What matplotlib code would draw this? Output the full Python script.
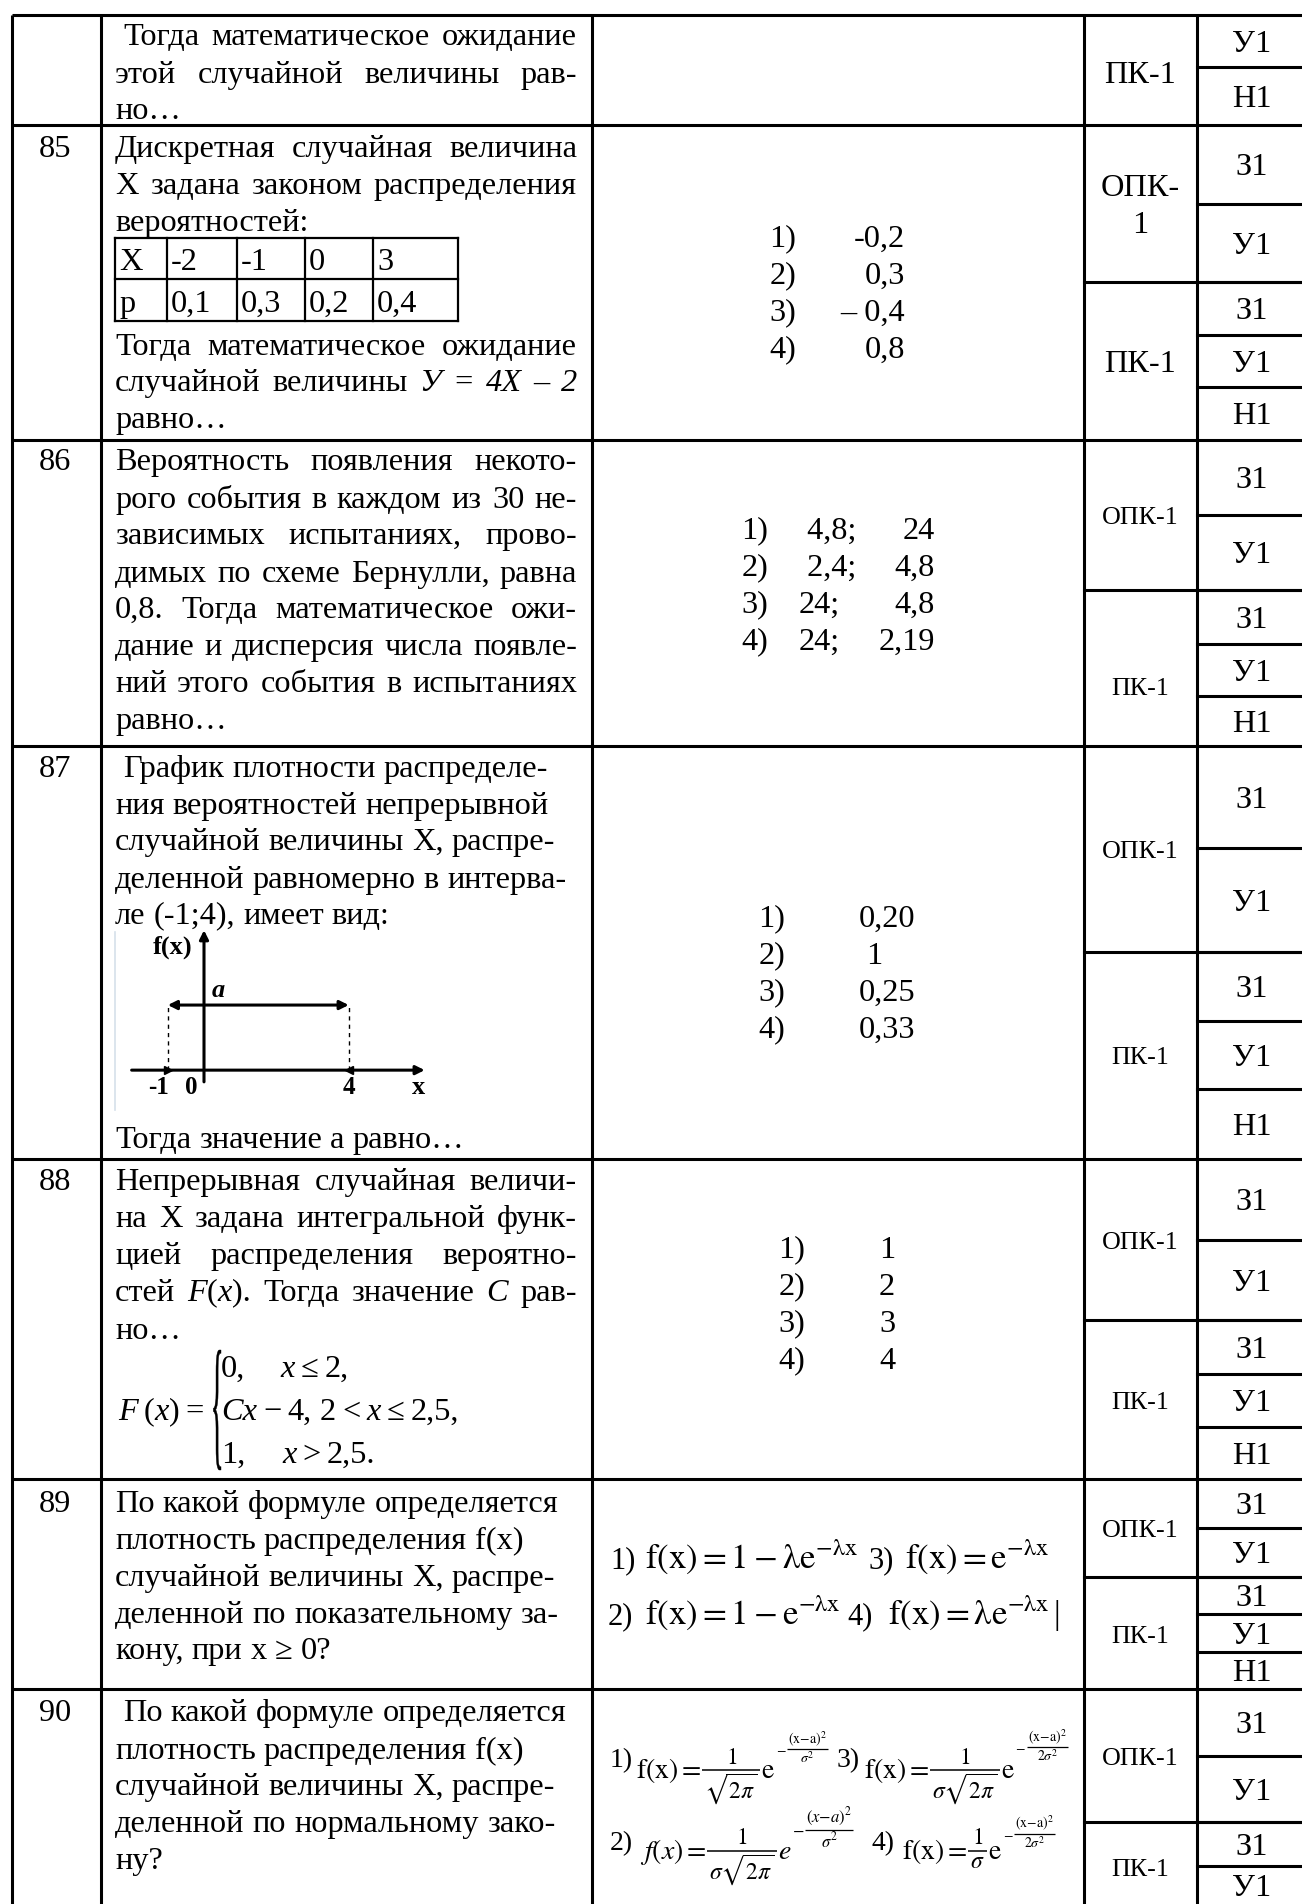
import matplotlib
matplotlib.use("Agg")
import matplotlib.pyplot as plt
from matplotlib.font_manager import FontProperties
from matplotlib.patches import PathPatch
from matplotlib.path import Path
from matplotlib.textpath import TextPath

W, H = 1302, 1904

plt.rcParams['font.family'] = ['Liberation Serif', 'DejaVu Serif']
plt.rcParams['mathtext.fontset'] = 'stix'

# ---------------- content ----------------
task_numbers = ["", "85", "86", "87", "88", "89", "90"]

# "_" toggles italic
question_text = [
    [" Тогда математическое ожидание", "этой случайной величины рав-", "но…"],
    ["Дискретная случайная величина", "X задана законом распределения", "вероятностей:",
     "Тогда математическое ожидание", "случайной величины _У = 4X – 2_", "равно…"],
    ["Вероятность появления некото-", "рого события в каждом из 30 не-",
     "зависимых испытаниях, прово-", "димых по схеме Бернулли, равна",
     "0,8. Тогда математическое ожи-", "дание и дисперсия числа появле-",
     "ний этого события в испытаниях", "равно…"],
    [" График плотности распределе-", "ния вероятностей непрерывной",
     "случайной величины X, распре-", "деленной равномерно в интерва-",
     "ле (-1;4), имеет вид:", "Тогда значение а равно…"],
    ["Непрерывная случайная величи-", "на X задана интегральной функ-",
     "цией распределения вероятно-", "стей _F_(_x_). Тогда значение _C_ рав-", "но…"],
    ["По какой формуле определяется", "плотность распределения f(x)",
     "случайной величины X, распре-", "деленной по показательному за-", "кону, при x ≥ 0?"],
    [" По какой формуле определяется", "плотность распределения f(x)",
     "случайной величины X, распре-", "деленной по нормальному зако-", "ну?"],
]
justified = [
    [1, 1, 0],
    [1, 1, 0, 1, 1, 0],
    [1, 1, 1, 1, 1, 1, 1, 0],
    [0, 0, 0, 0, 0, 0],
    [1, 1, 1, 1, 0],
    [0, 0, 0, 0, 0],
    [0, 0, 0, 0, 0],
]

dist_head = ["X", "p"]
dist_x = ["-2", "-1", "0", "3"]
dist_p = ["0,1", "0,3", "0,2", "0,4"]

option_marks = ["1)", "2)", "3)", "4)"]
answers_85 = ["-0,2", "0,3", "– 0,4", "0,8"]
answers_86_a = [" 4,8;", " 2,4;", "24;", "24;"]
answers_86_b = ["24", "4,8", "4,8", "2,19"]
answers_87 = ["0,20", "1", "0,25", "0,33"]
answers_88 = ["1", "2", "3", "4"]

uniform_interval = (-1, 4)

cdf_left = "_F_ (_x_) ="
cdf_cases = [("0,", "_x_ ≤ 2,"), ("_Cx_ − 4,", "2 < _x_ ≤ 2,5,"), ("1,", "_x_ > 2,5.")]

exp_formulas = [r'$\mathrm{f(x)=1-λe^{-λx}}$', r'$\mathrm{f(x)=1-e^{-λx}}$',
                r'$\mathrm{f(x)=e^{-λx}}$', r'$\mathrm{f(x)=λe^{-λx}}$']
# normal-law options: left side, coefficient num/den, base, exponent num/den
normal_formulas = [
    (r'$\mathrm{f(x)=}$', r'$1$', r'$\sqrt{2\pi}$', r'$\mathrm{e}$',
     r'$\mathrm{(x{-}a)^{2}}$', r'$\sigma^{2}$'),
    (r'$f(x)=$', r'$1$', r'$\sigma\sqrt{2\pi}$', r'$e$',
     r'$(x{-}a)^{2}$', r'$\sigma^{2}$'),
    (r'$\mathrm{f(x)=}$', r'$1$', r'$\sigma\sqrt{2\pi}$', r'$\mathrm{e}$',
     r'$\mathrm{(x{-}a)^{2}}$', r'$2\sigma^{2}$'),
    (r'$\mathrm{f(x)=}$', r'$1$', r'$\sigma$', r'$\mathrm{e}$',
     r'$\mathrm{(x{-}a)^{2}}$', r'$2\sigma^{2}$'),
]

competences = [["ПК-1"], ["ОПК-\n1", "ПК-1"], ["ОПК-1", "ПК-1"], ["ОПК-1", "ПК-1"],
               ["ОПК-1", "ПК-1"], ["ОПК-1", "ПК-1"], ["ОПК-1", "ПК-1"]]
levels = [["У1", "Н1"], ["З1", "У1", "З1", "У1", "Н1"], ["З1", "У1", "З1", "У1", "Н1"],
          ["З1", "У1", "З1", "У1", "Н1"], ["З1", "У1", "З1", "У1", "Н1"],
          ["З1", "У1", "З1", "У1", "Н1"], ["З1", "У1", "З1", "У1"]]

# ---------------- layout (pixels) ----------------
col_x = [12, 101, 592, 1084, 1197]
row_y = [15, 125, 440, 746, 1159, 1479, 1689, 1904]
comp_split = [None, 282, 590, 952, 1320, 1577, 1822]
comp_label_y = [[72], [203, 361], [515, 686], [849, 1055], [1240, 1400], [1528, 1634], [1756, 1867]]
level_edges = [[15, 67, 125], [125, 204, 282, 335, 387, 440], [440, 515, 590, 644, 696, 746],
               [746, 848, 952, 1021, 1089, 1159], [1159, 1240, 1320, 1374, 1427, 1479],
               [1479, 1528, 1577, 1614, 1652, 1689], [1689, 1756, 1822, 1866, 1904]]
line_y = [
    [34, 72, 108],
    [146, 183, 220, 344, 380, 417],
    [459, 497, 533, 571, 607, 644, 681, 718],
    [766, 803, 839, 877, 913, 1137],
    [1179, 1216, 1253, 1290, 1328],
    [1501, 1538, 1575, 1612, 1648],
    [1710, 1748, 1784, 1821, 1858],
]
TXT_L, TXT_R = 115, 577
FS = 23.3          # main text size, pt
FS_SMALL = 18.7
LW = 2.2

fig = plt.figure(figsize=(W / 100, H / 100), dpi=100)
ax = fig.add_axes([0, 0, 1, 1])
ax.set_xlim(0, W)
ax.set_ylim(H, 0)
ax.axis('off')
renderer = fig.canvas.get_renderer()


def width_of(s, size, style='normal'):
    t = ax.text(0, 0, s, fontsize=size, style=style)
    w = t.get_window_extent(renderer).width
    t.remove()
    return w


def draw_line(line, y, x0, x1, size=FS, justify=False, gap=None):
    base = y + 0.33 * size * 100 / 72
    space = 0.25 * size * 100 / 72
    if line.startswith(" "):
        x0 += space
    words, italic = [], False
    for w in line.split():
        segs = []
        for i, part in enumerate(w.split("_")):
            if i > 0:
                italic = not italic
            if part:
                segs.append((part, italic))
        words.append([(s, it, width_of(s, size, 'italic' if it else 'normal')) for s, it in segs])
    widths = [sum(s[2] for s in wd) for wd in words]
    if justify and len(words) > 1:
        gap = (x1 - x0 - sum(widths)) / (len(words) - 1)
    elif gap is None:
        gap = space
    x = x0
    for wd, ww in zip(words, widths):
        xx = x
        for s, it, sw in wd:
            ax.text(xx, base, s, fontsize=size, style='italic' if it else 'normal',
                    ha='left', va='baseline')
            xx += sw
        x += ww + gap


def ctext(x, y, s, size=FS, ha='center', **kw):
    ax.text(x, y + 0.33 * size * 100 / 72, s, fontsize=size, ha=ha, va='baseline', **kw)


def piece(x, base, s, size):
    t = ax.text(x, base, s, fontsize=size, ha='left', va='baseline')
    return x + t.get_window_extent(renderer).width


def frac(x, axis, num, den, size, lw=1.1, pad=2):
    w = max(width_of(num, size), width_of(den, size)) + 2 * pad
    ax.plot([x, x + w], [axis, axis], color='k', lw=lw, solid_capstyle='butt')
    ax.text(x + w / 2, axis - 1.5, num, fontsize=size, ha='center', va='bottom')
    ax.text(x + w / 2, axis + 1.5, den, fontsize=size, ha='center', va='top')
    return x + w


def normal_formula(x, base, f, main, fs, es, raise_):
    lhs, num, den, e, enum, eden = f
    x = piece(x, base, lhs, main) + 1
    x = frac(x, base - 8, num, den, fs) + 1
    x = piece(x, base, e, main) + 1
    axis2 = base - raise_
    x = piece(x, axis2 + 0.28 * es * 100 / 72, r'$-$', es) + 1
    frac(x, axis2, enum, eden, es, lw=0.9, pad=1)


# ---------------- grid ----------------
for x in col_x:
    ax.plot([x, x], [row_y[0], H], color='k', lw=LW, solid_capstyle='butt')
for y in row_y[:-1]:
    ax.plot([col_x[0], W], [y, y], color='k', lw=LW, solid_capstyle='butt')
for y in comp_split[1:]:
    ax.plot([col_x[3], W], [y, y], color='k', lw=LW)
for edges in level_edges:
    for y in edges[1:-1]:
        ax.plot([col_x[4], W], [y, y], color='k', lw=LW)

# ---------------- first two columns ----------------
for r, num in enumerate(task_numbers):
    if num:
        ctext(55, line_y[r][0], num)
    for line, y, j in zip(question_text[r], line_y[r], justified[r]):
        draw_line(line, y, TXT_L, TXT_R, justify=bool(j))

# distribution table in task 85
tab_x = [115, 167, 237, 305, 373, 458]
tab_y = [238, 279, 321]
for x in tab_x:
    ax.plot([x, x], [tab_y[0], tab_y[-1]], color='k', lw=1.6)
for y in tab_y:
    ax.plot([tab_x[0], tab_x[-1]], [y, y], color='k', lw=1.6)
for i, row in enumerate([[dist_head[0]] + dist_x, [dist_head[1]] + dist_p]):
    for j, s in enumerate(row):
        ctext(tab_x[j] + 4, (tab_y[i] + tab_y[i + 1]) / 2 + 1, s, ha='left')

# graph in task 87
a, b = uniform_interval
gax = fig.add_axes([115 / W, 1 - 1117 / H, (437 - 115) / W, (1117 - 925) / H])
gax.set_xlim(-2.46, 6.44)
gax.set_ylim(-0.72, 2.23)
gax.axis('off')
arrow_kw = dict(color='k', lw=2.2, mutation_scale=13, shrinkA=0, shrinkB=0)
gax.annotate('', xy=(6.1, 0), xytext=(-2.0, 0), arrowprops=dict(arrowstyle='-|>', **arrow_kw))
gax.annotate('', xy=(0, 2.15), xytext=(0, -0.18), arrowprops=dict(arrowstyle='-|>', **arrow_kw))
gax.annotate('', xy=(b, 1), xytext=(a, 1), arrowprops=dict(arrowstyle='<|-|>', **arrow_kw))
for v in (a, b):
    gax.plot([v, v], [0, 1], color='k', lw=1.0, ls=(0, (3, 3)))
gax.plot([a], [0], marker='>', color='k', ms=6)
gax.plot([b], [0], marker='<', color='k', ms=6)
gax.text(-0.88, 1.89, 'f(x)', fontsize=19, fontweight='bold', ha='center', va='center')
gax.text(0.4, 1.22, 'a', fontsize=19, fontweight='bold', style='italic', ha='center', va='center')
for v, dx in ((a, -0.27), (0, -0.36), (b, 0.0)):
    gax.text(v + dx, -0.27, str(v), fontsize=18, fontweight='bold', ha='center', va='center')
gax.text(5.94, -0.27, 'x', fontsize=19, fontweight='bold', ha='center', va='center')
ax.plot([115, 115], [932, 1110], color='#d6e0ea', lw=1.2)

# piecewise function in task 88
draw_line(cdf_left, 1409, 118, 215, size=FS, gap=6)
tp = TextPath((0, 0), "{", size=1, prop=FontProperties(family='Liberation Serif'))
v = tp.vertices
xmin, xmax, ymin, ymax = v[:, 0].min(), v[:, 0].max(), v[:, 1].min(), v[:, 1].max()
bx, bw, by, bh = 211, 10, 1350, 120
nv = v.copy()
nv[:, 0] = bx + (v[:, 0] - xmin) / (xmax - xmin) * bw
nv[:, 1] = by + (ymax - v[:, 1]) / (ymax - ymin) * bh
ax.add_patch(PathPatch(Path(nv, tp.codes), color='k', lw=0.3))
for (left, right), y, xr in zip(cdf_cases, [1366, 1409, 1452], [280, 320, 282]):
    draw_line(left, y, 221, 300, size=FS, gap=6)
    draw_line(right, y, xr, 500, size=FS, gap=6)

# ---------------- answer column ----------------
for i, m in enumerate(option_marks):
    y = 236 + 37 * i
    ctext(783, y, m)
    ctext(905, y, answers_85[i], ha='right')
    y = 528 + 37 * i
    ctext(755, y, m)
    ctext(799, y, answers_86_a[i], ha='left')
    ctext(935, y, answers_86_b[i], ha='right')
    y = 916 + 37 * i
    ctext(772, y, m)
    ctext(866 if answers_87[i] == "1" else 859, y, answers_87[i], ha='left')
    y = 1247 + 37 * i
    ctext(792, y, m)
    ctext(887, y, answers_88[i])

# exponential law formulas (task 89)
FF = 25
for k, (y, xs) in enumerate([(1557, (610, 645, 868, 905)), (1613, (608, 645, 847, 888))]):
    base = y + 11
    ax.text(xs[0], base, option_marks[k], fontsize=22, ha='left', va='baseline')
    ax.text(xs[1], base, exp_formulas[k], fontsize=FF, ha='left', va='baseline')
    ax.text(xs[2], base, option_marks[k + 2], fontsize=22, ha='left', va='baseline')
    ax.text(xs[3], base, exp_formulas[k + 2], fontsize=FF, ha='left', va='baseline')
ax.text(1054, 1624, "|", fontsize=24, ha='left', va='baseline')

# normal law formulas (task 90): (label x, formula x, label baseline, formula baseline, sizes)
normal_layout = [
    (610, 636, 1767, 1778, (20, 17, 10, 29)),
    (610, 640, 1850, 1859, (20, 17, 12, 29)),
    (837, 864, 1767, 1778, (20, 17, 10, 31)),
    (872, 902, 1850, 1859, (20, 17, 10, 25)),
]
for k, (lx, fx, lb, fb, sz) in enumerate(normal_layout):
    ax.text(lx, lb, option_marks[k], fontsize=20, ha='left', va='baseline')
    normal_formula(fx, fb, normal_formulas[k], *sz)

# ---------------- competences and levels ----------------
for r, labels in enumerate(competences):
    for lab, y in zip(labels, comp_label_y[r]):
        size = FS if r < 2 else FS_SMALL
        if "\n" in lab:
            top, bot = lab.split("\n")
            ctext(1140, 185, top, size=size)
            ctext(1140, 222, bot, size=size)
        else:
            ctext(1140, y, lab, size=size)
for labels, edges in zip(levels, level_edges):
    for lab, y0, y1 in zip(labels, edges[:-1], edges[1:]):
        ctext(1252, (y0 + y1) / 2, lab)

fig.savefig("out.png", dpi=100, facecolor='white')
